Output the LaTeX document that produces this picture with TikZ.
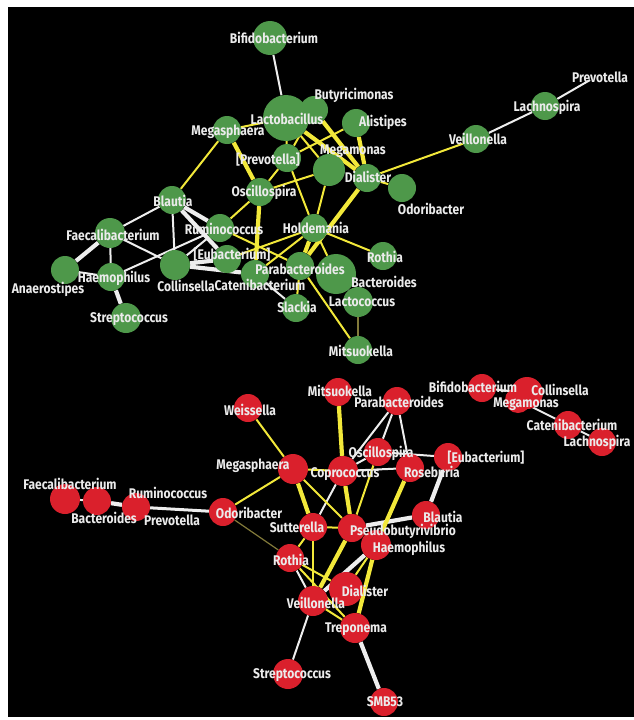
\documentclass[tikz,border=0pt]{standalone}
\usepackage{fontspec}
\newfontfamily\labfont[FakeStretch=0.86]{Fira Sans}
\usetikzlibrary{backgrounds}
\definecolor{ngreen}{RGB}{78,152,74}
\definecolor{nred}{RGB}{218,32,44}
\definecolor{eyellow}{RGB}{242,232,58}
\definecolor{ewhite}{RGB}{238,238,238}
\definecolor{eolive}{RGB}{130,122,58}
\definecolor{labwhite}{RGB}{235,235,235}

\begin{document}
\begin{tikzpicture}[
    x=1pt, y=-1pt,
    gnode/.style={circle, fill=ngreen, inner sep=0pt, minimum size=#1},
    gnode/.default=28,
    rnode/.style={circle, fill=nred, inner sep=0pt, minimum size=#1},
    rnode/.default=28,
    lab/.style={text=labwhite, inner sep=0pt, font=\labfont\bfseries\fontsize{14}{14}\selectfont},
    wl/.style={draw=ewhite, line width=2pt},
    wt/.style={draw=ewhite, line width=4.2pt},
    yl/.style={draw=eyellow, line width=2pt},
    yt/.style={draw=eyellow, line width=4.2pt},
    ol/.style={draw=eolive, line width=1.2pt}
]
\useasboundingbox (0,0) rectangle (634,720);

% Top network (green)
\node[gnode=34] (gBifido) at (270,38) {};
\node[gnode=46] (gLacto) at (286,118) {};
\node[gnode] (gButyr) at (314,110) {};
\node[gnode] (gAlist) at (356,123) {};
\node[gnode=32] (gMegam) at (329,170) {};
\node[gnode] (gDial) at (367,178) {};
\node[gnode] (gOdori) at (402,188) {};
\node[gnode] (gVeill) at (476,139) {};
\node[gnode] (gLachno) at (545,106) {};
\coordinate (gPrevo) at (590,80);
\node[gnode] (gMegas) at (227,130) {};
\node[gnode] (gPrevB) at (287,158) {};
\node[gnode] (gOscil) at (260,192) {};
\node[gnode] (gHolde) at (314,228) {};
\node[gnode] (gRumin) at (220,228) {};
\node[gnode] (gBlaut) at (172,200) {};
\node[gnode=30] (gFaeca) at (110,233) {};
\node[gnode] (gAnaer) at (65,270) {};
\node[gnode] (gHaemo) at (111,277) {};
\node[gnode=30] (gStrep) at (126,318) {};
\node[gnode=30] (gColli) at (175,265) {};
\node[gnode] (gEubac) at (227,259) {};
\node[gnode] (gCaten) at (255,274) {};
\node[gnode] (gParab) at (300,266) {};
\node[gnode=40] (gBacte) at (336,274) {};
\node[gnode=30] (gLactoc) at (358,302) {};
\node[gnode] (gRothia) at (383,256) {};
\node[gnode] (gSlack) at (296,308) {};
\node[gnode] (gMitsu) at (358,350) {};

% Bottom network (red)
\node[rnode] (rMitsu) at (338,392) {};
\node[rnode] (rParab) at (397,401) {};
\node[rnode] (rWeiss) at (248,408) {};
\node[rnode] (rOscil) at (378,452) {};
\node[rnode] (rRoseb) at (410,468) {};
\node[rnode] (rEubac) at (448,457) {};
\node[rnode=30] (rMegas) at (293,469) {};
\node[rnode=30] (rCopro) at (343,471) {};
\node[rnode] (rOdori) at (223,512) {};
\node[rnode] (rBlaut) at (426,515) {};
\node[rnode] (rSutte) at (313,527) {};
\node[rnode] (rPseud) at (352,528) {};
\node[rnode=30] (rHaemo) at (376,545) {};
\node[rnode] (rRothia) at (290,558) {};
\node[rnode=34] (rDial) at (346,589) {};
\node[rnode=30] (rVeill) at (313,601) {};
\node[rnode=30] (rTrepo) at (355,628) {};
\node[rnode=30] (rStrep) at (288,674) {};
\node[rnode] (rSMB) at (384,702) {};
\node[rnode=30] (rFaeca) at (65,499) {};
\node[rnode] (rBacte) at (97,501) {};
\node[rnode] (rRumin) at (136,507) {};
\node[rnode] (rBifido) at (482,388) {};
\node[rnode=26] (rMegam) at (518,400) {};
\node[rnode=32] (rColli) at (527,393) {};
\node[rnode] (rCaten) at (568,425) {};
\node[rnode] (rLachno) at (602,442) {};

% Background and edges behind the circles
\begin{scope}[on background layer]
\fill[white] (0,0) rectangle (634,720);
\fill[black] (8,7) rectangle (634,717);
\foreach \a/\b in {gBifido/gLacto, gVeill/gLachno, gLachno/gPrevo, gBlaut/gFaeca, gBlaut/gColli,
    gFaeca/gColli, gFaeca/gHaemo, gAnaer/gHaemo, gHaemo/gRumin, gColli/gRumin, gCaten/gSlack,
    gBacte/gLactoc}
  \draw[wl] (\a) -- (\b);
\foreach \a/\b in {gBlaut/gRumin, gBlaut/gEubac, gFaeca/gAnaer, gHaemo/gStrep, gColli/gCaten, gColli/gEubac}
  \draw[wt] (\a) -- (\b);
\foreach \a/\b in {gMegas/gLacto, gMegas/gBlaut, gButyr/gPrevB, gLacto/gPrevB, gLacto/gMegam,
    gAlist/gPrevB, gDial/gVeill, gDial/gOdori, gOscil/gMegam, gMegam/gHolde, gPrevB/gHolde,
    gPrevB/gOscil, gOscil/gRumin, gRumin/gParab, gHolde/gEubac, gHolde/gCaten, gHolde/gBacte,
    gHolde/gRothia, gParab/gMitsu, gParab/gSlack}
  \draw[yl] (\a) -- (\b);
\foreach \a/\b in {gMegas/gOscil, gLacto/gDial, gButyr/gDial, gAlist/gDial, gDial/gParab,
    gOscil/gCaten, gHolde/gParab}
  \draw[yt] (\a) -- (\b);
\draw[ol] (gLactoc) -- (gMitsu);

\foreach \a/\b in {rParab/rCopro, rParab/rOscil, rParab/rRoseb, rOscil/rEubac, rCopro/rRoseb,
    rCopro/rOscil, rCopro/rSutte, rRothia/rVeill, rVeill/rStrep, rFaeca/rBacte, rBifido/rColli,
    rMegam/rCaten, rCaten/rLachno}
  \draw[wl] (\a) -- (\b);
\foreach \a/\b in {rEubac/rBlaut, rBlaut/rPseud, rHaemo/rVeill, rTrepo/rSMB, rBacte/rRumin}
  \draw[wt] (\a) -- (\b);
\draw[wl, line width=3pt] (rRumin) -- (rOdori);
\foreach \a/\b in {rWeiss/rMegas, rMegas/rCopro, rMegas/rOdori, rMegas/rPseud, rOscil/rPseud,
    rSutte/rPseud, rSutte/rRothia, rSutte/rVeill, rHaemo/rDial, rRothia/rDial, rRothia/rTrepo,
    rVeill/rTrepo}
  \draw[yl] (\a) -- (\b);
\foreach \a/\b in {rMegas/rSutte, rMitsu/rCopro, rCopro/rPseud, rRoseb/rHaemo, rPseud/rVeill, rHaemo/rTrepo}
  \draw[yt] (\a) -- (\b);
\draw[ol] (rOdori) -- (rRothia);
\end{scope}

% Labels, top
\node[lab] (lgBifido) at (274,38) {Bifidobacterium};
\node[lab] (lgLacto) at (287,119) {Lactobacillus};
\node[lab] (lgButyr) at (354,95) {Butyricimonas};
\node[lab] (lgAlist) at (383,122) {Alistipes};
\node[lab] (lgMegam) at (353,151) {Megamonas};
\node[lab] (lgDial) at (368,177) {Dialister};
\node[lab] (lgOdori) at (431,209) {Odoribacter};
\node[lab] (lgVeill) at (478,139) {Veillonella};
\node[lab] (lgLachno) at (547,107) {Lachnospira};
\node[lab] (lgPrevo) at (600,77) {Prevotella};
\node[lab] (lgMegas) at (228,132) {Megasphaera};
\node[lab] (lgPrevB) at (268,160) {[Prevotella]};
\node[lab] (lgOscil) at (264,192) {Oscillospira};
\node[lab] (lgHolde) at (316,228) {Holdemania};
\node[lab] (lgRumin) at (224,229) {Ruminococcus};
\node[lab] (lgBlaut) at (173,201) {Blautia};
\node[lab] (lgFaeca) at (113,235) {Faecalibacterium};
\node[lab] (lgAnaer) at (48,289) {Anaerostipes};
\node[lab] (lgHaemo) at (114,278) {Haemophilus};
\node[lab] (lgColli) at (186,286) {Collinsella};
\node[lab] (lgCaten) at (260,285) {Catenibacterium};
\node[lab] (lgStrep) at (129,319) {Streptococcus};
\node[lab] (lgEubac) at (232,255) {[Eubacterium]};
\node[lab] (lgParab) at (300,269) {Parabacteroides};
\node[lab] (lgSlack) at (297,307) {Slackia};
\node[lab] (lgRothia) at (385,257) {Rothia};
\node[lab] (lgBacte) at (384,282) {Bacteroides};
\node[lab] (lgLactoc) at (362,302) {Lactococcus};
\node[lab] (lgMitsu) at (361,351) {Mitsuokella};

% Labels, bottom
\node[lab] (lrMitsu) at (340,391) {Mitsuokella};
\node[lab] (lrParab) at (399,402) {Parabacteroides};
\node[lab] (lrWeiss) at (250,410) {Weissella};
\node[lab] (lrOscil) at (381,453) {Oscillospira};
\node[lab] (lrMegas) at (253,466) {Megasphaera};
\node[lab] (lrCopro) at (345,474) {Coprococcus};
\node[lab] (lrRoseb) at (432,472) {Roseburia};
\node[lab] (lrEubac) at (486,458) {[Eubacterium]};
\node[lab] (lrOdori) at (249,513) {Odoribacter};
\node[lab] (lrSutte) at (297,527) {Sutterella};
\node[lab] (lrBlaut) at (443,517) {Blautia};
\node[lab] (lrPseud) at (403,531) {Pseudobutyrivibrio};
\node[lab] (lrHaemo) at (409,548) {Haemophilus};
\node[lab] (lrRothia) at (291,560) {Rothia};
\node[lab] (lrDial) at (365,591) {Dialister};
\node[lab] (lrVeill) at (316,603) {Veillonella};
\node[lab] (lrTrepo) at (356,629) {Treponema};
\node[lab] (lrStrep) at (292,675) {Streptococcus};
\node[lab] (lrSMB) at (385,702) {SMB53};
\node[lab] (lrFaeca) at (70,484) {Faecalibacterium};
\node[lab] (lrBacte) at (104,518) {Bacteroides};
\node[lab] (lrRumin) at (168,493) {Ruminococcus};
\node[lab] (lrPrevo) at (172,520) {Prevotella};
\node[lab] (lrBifido) at (473,387) {Bifidobacterium};
\node[lab] (lrColli) at (560,390) {Collinsella};
\node[lab] (lrMegam) at (526,404) {Megamonas};
\node[lab] (lrCaten) at (572,425) {Catenibacterium};
\node[lab] (lrLachno) at (597,442) {Lachnospira};
\end{tikzpicture}
\end{document}
